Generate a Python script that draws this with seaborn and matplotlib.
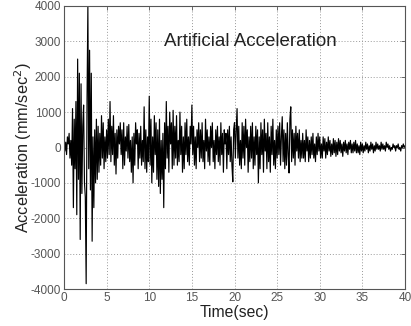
import numpy as np
import pandas as pd
import matplotlib
matplotlib.use("Agg")
import matplotlib.pyplot as plt
import seaborn as sns

# Acceleration samples (mm/sec^2), dt = 0.1 s
acc_00_10 = [0, -100, 150, -200, 300, 100, 400, -300, 200, -500,
             1100, -1700, 800, -600, 1300, -1900, 2500, -900, 2100, -2600,
             1800, -1300, 600, 1200, -1000, -1400, -3850, 1300, 4000, -600,
             2750, -1200, 2100, -2650, 300, -1700, 500, -1000, 800, -900,
             600, -700, 400, -500, 900, -300, 700, -600, 300, -400,
             500, -300, 800, -200, 1300, -400, 600, -200, 900, -500,
             400, -750, 500, -300, 600, 100, 700, -200, 500, -600,
             700, -500, 300, -100, 600, -300, 650, -400, 200, -700,
             300, -1000, 400, -500, 700, 100, 500, -600, 400, -300,
             600, -500, 200, -400, 1150, -600, 500, -700, 300, -400]
acc_10_20 = [1450, -500, 800, -1000, 300, -700, 900, -200, 700, -900,
             500, -1100, 800, -1300, 200, -900, 400, -1700, 700, -600,
             1300, -300, 600, -700, 1000, 100, 700, -600, 1050, -500,
             600, -300, 900, -500, 200, -400, 1000, -200, 600, -700,
             300, -600, 700, -200, 800, -400, 300, -500, 600, 100,
             1200, -200, 600, -500, 300, -600, 500, 0, 700, -400,
             500, -300, 700, -400, 200, -600, 800, -100, 500, -400,
             300, -500, 600, 0, 700, -400, 200, -600, 500, -200,
             600, -400, 300, -500, 700, -200, 400, -700, 500, 100,
             400, -600, 500, -200, 600, -400, 300, -500, -970, 500]
acc_20_30 = [700, -300, 500, 1100, -300, 600, -500, 200, -600, 700,
             -300, 600, -500, 800, 0, 500, -700, 300, -400, 600,
             -300, 700, -600, 300, -500, 600, -200, 500, -1000, 300,
             -600, 700, -200, 500, -700, 800, -100, 400, -600, 700,
             -400, 300, -700, 600, -200, 800, -500, 200, -600, 500,
             -300, 600, -200, 700, -500, 300, 870, -400, 500, -600,
             400, -500, 700, -200, -720, 800, 1150, -400, 500, -300,
             400, -500, 600, -100, 400, -300, 500, -400, 200, -300,
             400, -300, 200, -400, 500, -100, 300, -400, 200, -300,
             300, -200, 400, -300, 100, -400, 300, -200, 400, -100]
acc_30_40 = [300, -300, 100, -300, 300, -100, 250, -300, 150, -200,
             300, -100, 200, -250, 100, -200, 250, -150, 200, -250,
             150, -200, 250, -100, 200, -150, 100, -250, 150, -100,
             200, -150, 100, -200, 150, -50, 200, -150, 100, -150,
             150, -100, 200, -150, 100, -150, 50, -200, 150, -100,
             100, -150, 50, -100, 150, -50, 100, -150, 50, -100,
             150, -50, 100, -150, 50, -100, 150, -50, 100, -50,
             50, -100, 150, -50, 100, -50, 50, -100, 150, 0,
             100, -50, 50, -100, 0, -50, 100, 0, 50, -100,
             50, 0, 100, -50, 0, -100, 50, 0, 100, 0,
             50]

x_ticks = [0, 5, 10, 15, 20, 25, 30, 35, 40]
y_ticks = [-4000, -3000, -2000, -1000, 0, 1000, 2000, 3000, 4000]
title_text = "Artificial Acceleration"
x_label = "Time(sec)"
y_label = "Acceleration (mm/sec$^2$)"

acc = acc_00_10 + acc_10_20 + acc_20_30 + acc_30_40
dt = 0.1
time = np.arange(len(acc)) * dt
df = pd.DataFrame({"t": time, "a": acc})

sns.set_style("white")
plt.rcParams['font.family'] = ['Liberation Sans', 'DejaVu Sans']

fig = plt.figure(figsize=(4.11, 3.26), dpi=100)
ax = fig.add_axes([64/411, 1 - 289/326, (405 - 64)/411, (289 - 6)/326])

sns.lineplot(data=df, x="t", y="a", ax=ax, color="black", linewidth=0.85,
             estimator=None, sort=False)

ax.set_xlim(0, 40)
ax.set_ylim(-4000, 4000)
ax.set_xticks(x_ticks)
ax.set_yticks(y_ticks)
ax.set_xticklabels([str(v) for v in x_ticks])
ax.set_yticklabels([str(v) for v in y_ticks])
ax.grid(True, linestyle=(0, (1, 2)), color="#999999", linewidth=0.7)
ax.tick_params(direction="in", length=3, width=0.6, colors="#555555",
               labelsize=8.5, top=True, right=True, labeltop=False, labelright=False,
               pad=2)
for s in ax.spines.values():
    s.set_color("#555555")
    s.set_linewidth(0.8)

ax.set_xlabel(x_label, fontsize=11.3, color="#222222", labelpad=1)
ax.set_ylabel(y_label, fontsize=11.7, color="#222222", labelpad=-2)
ax.text(0.548, 0.873, title_text, transform=ax.transAxes, ha="center",
        va="center", fontsize=13.5, color="#222222")

fig.savefig("out.png", dpi=100)
